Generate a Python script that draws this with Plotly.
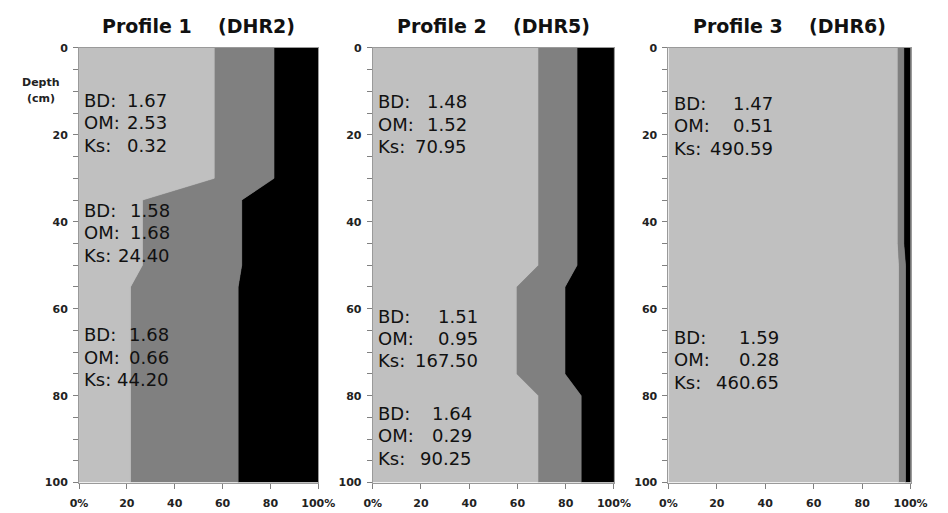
import plotly.graph_objects as go

# ---------------- data ----------------
depths_p1 = [0, 30, 35, 50, 55, 100]
sand_p1 = [56.5, 56.5, 26.5, 26.5, 21.5, 21.5]
silt_p1 = [25, 25, 41.5, 41.5, 45, 45]
clay_p1 = [18.5, 18.5, 32, 32, 33.5, 33.5]

depths_p2 = [0, 50, 55, 75, 80, 100]
sand_p2 = [68.5, 68.5, 59.5, 59.5, 68.5, 68.5]
silt_p2 = [16.2, 16.2, 20.2, 20.2, 17.9, 17.9]
clay_p2 = [15.3, 15.3, 20.3, 20.3, 13.6, 13.6]

depths_p3 = [0, 45, 50, 100]
sand_p3 = [94.5, 94.5, 95, 95]
silt_p3 = [2.7, 2.7, 2.9, 2.9]
clay_p3 = [2.8, 2.8, 2.1, 2.1]

titles = ["Profile 1", "Profile 2", "Profile 3"]
site_codes = ["(DHR2)", "(DHR5)", "(DHR6)"]

bd_p1 = ["1.67", "1.58", "1.68"]
om_p1 = ["2.53", "1.68", "0.66"]
ks_p1 = ["0.32", "24.40", "44.20"]

bd_p2 = ["1.48", "1.51", "1.64"]
om_p2 = ["1.52", "0.95", "0.29"]
ks_p2 = ["70.95", "167.50", "90.25"]

bd_p3 = ["1.47", "1.59"]
om_p3 = ["0.51", "0.28"]
ks_p3 = ["490.59", "460.65"]

prop_labels = ["BD:", "OM:", "Ks:"]
x_tick_vals = [0, 20, 40, 60, 80, 100]
x_tick_text = ["0%", "20", "40", "60", "80", "100%"]
y_tick_vals = [0, 20, 40, 60, 80, 100]

# ---------------- styling / layout ----------------
W, H = 948, 513
COLORS = ["#c0c0c0", "#808080", "#000000"]
FONT = "DejaVu Sans"

panels = [
    (depths_p1, [sand_p1, silt_p1, clay_p1], [bd_p1, om_p1, ks_p1]),
    (depths_p2, [sand_p2, silt_p2, clay_p2], [bd_p2, om_p2, ks_p2]),
    (depths_p3, [sand_p3, silt_p3, clay_p3], [bd_p3, om_p3, ks_p3]),
]
px_x = [(72, 318), (374, 622), (678, 927)]
px_y = (43, 489)
blocks = [
    [(1.2, 37.5, 12.1), (1.2, 39.0, 37.4), (1.2, 38.6, 66.0)],
    [(1.5, 40.0, 12.4), (1.5, 44.4, 61.7), (1.5, 42.0, 84.1)],
    [(1.5, 44.2, 12.8), (1.5, 46.6, 66.6)],
]
line_step = 5.15

fig = go.Figure()
annotations = []
layout_axes = {}

for i, (depths, comps, props) in enumerate(panels):
    n = i + 1
    xa = "x" if n == 1 else f"x{n}"
    ya = "y" if n == 1 else f"y{n}"
    for comp, col in zip(comps, COLORS):
        fig.add_trace(go.Scatter(
            x=comp, y=depths, xaxis=xa, yaxis=ya,
            stackgroup=f"p{n}", orientation="h",
            mode="lines", line=dict(width=0.6, color=col),
            fillcolor=col, hoverinfo="skip", showlegend=False,
        ))
    x0, x1 = px_x[i]
    xdom = [x0 / W, x1 / W]
    ydom = [1 - px_y[1] / H, 1 - px_y[0] / H]
    axis_common = dict(
        showgrid=False, zeroline=False, showline=True, mirror=True,
        linecolor="#9a9a9a", linewidth=1, ticks="outside", ticklen=5,
        tickcolor="#808080",
        tickfont=dict(family=FONT, size=11, color="#222", weight="bold"),
        fixedrange=True,
    )
    layout_axes["xaxis" if n == 1 else f"xaxis{n}"] = dict(
        axis_common, domain=xdom, range=[0, 100], anchor=ya,
        tickvals=x_tick_vals, ticktext=x_tick_text, ticklabelstandoff=5,
    )
    layout_axes["yaxis" if n == 1 else f"yaxis{n}"] = dict(
        axis_common, domain=ydom, range=[100, 0], anchor=xa,
        tickvals=y_tick_vals, ticklabelstandoff=3,
        minor=dict(dtick=5, ticks="outside", ticklen=5, tickcolor="#808080"),
    )
    annotations.append(dict(
        text=f"{titles[i]}\u00a0\u00a0\u00a0\u00a0{site_codes[i]}",
        xref=f"{xa} domain", yref="paper", x=0.5, y=1 - 21 / H,
        xanchor="center", yanchor="middle", showarrow=False,
        font=dict(family=FONT, size=19, color="#111", weight="bold"),
    ))
    for b, (lx, rx, d0) in enumerate(blocks[i]):
        for k in range(3):
            yv = d0 + k * line_step
            annotations.append(dict(
                text=prop_labels[k], xref=xa, yref=ya, x=lx, y=yv,
                xanchor="left", yanchor="middle", showarrow=False,
                font=dict(family=FONT, size=18, color="#111"),
            ))
            annotations.append(dict(
                text=props[k][b], xref=xa, yref=ya, x=rx, y=yv,
                xanchor="right", yanchor="middle", showarrow=False,
                font=dict(family=FONT, size=18, color="#111"),
            ))

for txt, ypx in (("Depth", 78), ("(cm)", 95)):
    annotations.append(dict(
        text=txt, xref="paper", yref="paper", x=33 / W, y=1 - ypx / H,
        xanchor="center", yanchor="middle", showarrow=False,
        font=dict(family=FONT, size=11, color="#222", weight="bold"),
    ))

fig.update_layout(
    width=W, height=H, margin=dict(l=0, r=0, t=0, b=0),
    paper_bgcolor="white", plot_bgcolor="white",
    annotations=annotations, **layout_axes,
)

fig.write_html(
    "out.html",
    config={"displayModeBar": False},
    post_script="document.body.style.margin='0';document.body.style.overflow='hidden';",
)
